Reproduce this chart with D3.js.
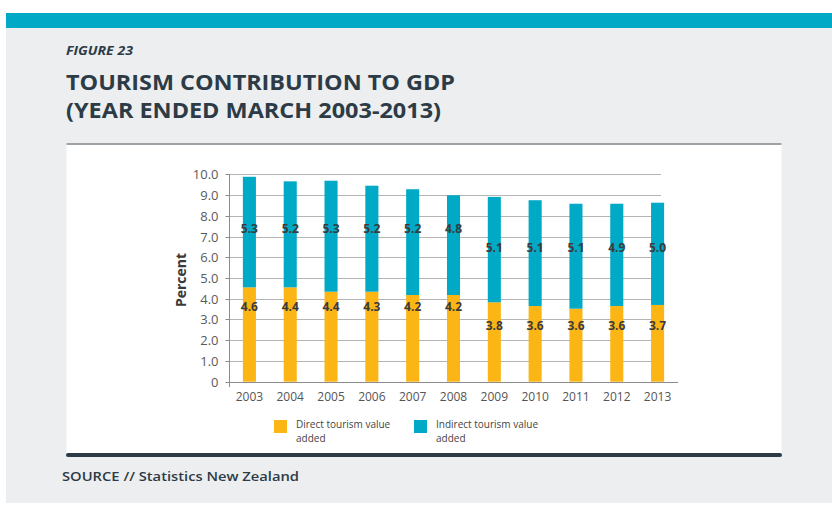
<!DOCTYPE html>
<html>
<head>
<meta charset="utf-8">
<script src="https://cdn.jsdelivr.net/npm/d3@7"></script>
<style>
  html, body { margin: 0; padding: 0; background: #ffffff; }
  svg { display: block; }
  text { font-family: "Open Sans", sans-serif; }
</style>
</head>
<body>
<svg id="chart" width="832" height="505"></svg>
<script>
// ---- data ----
const years = ["2003","2004","2005","2006","2007","2008","2009","2010","2011","2012","2013"];
const direct = [4.55, 4.55, 4.34, 4.34, 4.18, 4.18, 3.83, 3.65, 3.52, 3.65, 3.70];
const indirect = [5.33, 5.11, 5.35, 5.11, 5.10, 4.81, 5.08, 5.10, 5.06, 4.93, 4.93];
const directLabels = ["4.6","4.4","4.4","4.3","4.2","4.2","3.8","3.6","3.6","3.6","3.7"];
const indirectLabels = ["5.3","5.2","5.3","5.2","5.2","4.8","5.1","5.1","5.1","4.9","5.0"];
const directLabelAt = [3.62, 3.62, 3.62, 3.62, 3.62, 3.62, 2.70, 2.70, 2.70, 2.70, 2.70];
const indirectLabelAt = [7.36, 7.36, 7.36, 7.36, 7.36, 7.36, 6.48, 6.48, 6.48, 6.48, 6.48];
const yTicks = [0,1,2,3,4,5,6,7,8,9,10];
const yTickLabels = ["0","1.0","2.0","3.0","4.0","5.0","6.0","7.0","8.0","9.0","10.0"];
const seriesNames = ["Direct tourism value added", "Indirect tourism value added"];

const figureLabel = "FIGURE 23";
const titleLines = ["TOURISM CONTRIBUTION TO GDP", "(YEAR ENDED MARCH 2003-2013)"];
const sourceText = "SOURCE // Statistics New Zealand";
const yTitle = "Percent";

// ---- styles ----
const C_ORANGE = "#fbb515";
const C_TEAL = "#00a9c6";
const C_DARK = "#2c3b45";
const C_PANEL = "#eceef0";

const svg = d3.select("#chart");

// background panel
svg.append("rect").attr("x", 6).attr("y", 13).attr("width", 826).attr("height", 490).attr("fill", C_PANEL);
svg.append("rect").attr("x", 6).attr("y", 13).attr("width", 826).attr("height", 15).attr("fill", "#00a9c5");

// headings
svg.append("text").attr("x", 66).attr("y", 55)
  .attr("font-size", 13).attr("font-weight", 700).attr("font-style", "italic")
  .attr("fill", C_DARK).attr("textLength", 67).attr("lengthAdjust", "spacingAndGlyphs")
  .text(figureLabel);
svg.append("text").attr("x", 66).attr("y", 90)
  .attr("font-size", 22).attr("font-weight", 700).attr("fill", C_DARK)
  .attr("textLength", 389).attr("lengthAdjust", "spacingAndGlyphs")
  .text(titleLines[0]);
svg.append("text").attr("x", 66).attr("y", 118)
  .attr("font-size", 22).attr("font-weight", 700).attr("fill", C_DARK)
  .attr("textLength", 375).attr("lengthAdjust", "spacingAndGlyphs")
  .text(titleLines[1]);

// white chart box
svg.append("rect").attr("x", 66.5).attr("y", 144).attr("width", 715).attr("height", 311).attr("fill", "#ffffff");
svg.append("line").attr("x1", 66.5).attr("x2", 781.5).attr("y1", 144).attr("y2", 144)
  .attr("stroke", "#9ea3a7").attr("stroke-width", 2);
svg.append("line").attr("x1", 68).attr("x2", 780).attr("y1", 455).attr("y2", 455)
  .attr("stroke", C_DARK).attr("stroke-width", 4).attr("stroke-linecap", "round");

// source
svg.append("text").attr("x", 62).attr("y", 481)
  .attr("font-size", 13).attr("font-weight", 600).attr("fill", C_DARK)
  .attr("textLength", 237).attr("lengthAdjust", "spacingAndGlyphs")
  .text(sourceText);

// ---- scales ----
const x = d3.scaleBand().domain(years).range([229, 678]).paddingInner(0.68).paddingOuter(0.34);
const y = d3.scaleLinear().domain([0, 10]).range([381.7, 174.3]);
const gridEnd = 661;

// gridlines
svg.append("g").selectAll("line").data(yTicks.filter(d => d > 0)).join("line")
  .attr("x1", 229).attr("x2", gridEnd)
  .attr("y1", d => Math.round(y(d)) + 0.5).attr("y2", d => Math.round(y(d)) + 0.5)
  .attr("stroke", "#b4b4b4").attr("stroke-width", 1);

// y axis
const yAxis = d3.axisLeft(y).tickValues(yTicks).tickSize(4).tickPadding(7)
  .tickFormat((d, i) => yTickLabels[i]);
const gy = svg.append("g").attr("transform", "translate(229.5,0)").call(yAxis);
gy.select(".domain").remove();
gy.selectAll(".tick line").attr("stroke", "#8c8c8c");
gy.selectAll(".tick").attr("transform", d => `translate(0,${Math.round(y(d)) + 0.5})`);
gy.selectAll(".tick text").attr("font-family", "'Open Sans', sans-serif").attr("font-size", 13)
  .attr("fill", "#5a5a5a").attr("dy", "0.34em");
svg.append("line").attr("x1", 229.5).attr("x2", 229.5).attr("y1", y(10)).attr("y2", 387)
  .attr("stroke", "#8c8c8c");

// x axis
const xAxis = d3.axisBottom(x).tickSize(0).tickPadding(10);
const gx = svg.append("g").attr("transform", `translate(0,${Math.round(y(0)) + 0.5})`).call(xAxis);
gx.select(".domain").attr("stroke", "#8c8c8c").attr("d", "M229,0H678");
gx.selectAll(".tick text").attr("font-family", "'Open Sans', sans-serif").attr("font-size", 12)
  .attr("fill", "#555");

// bars
const bars = svg.append("g");
bars.selectAll("rect.direct").data(years).join("rect").attr("class", "direct")
  .attr("x", d => x(d)).attr("width", x.bandwidth())
  .attr("y", (d, i) => y(direct[i])).attr("height", (d, i) => y(0) - y(direct[i]))
  .attr("fill", C_ORANGE);
bars.selectAll("rect.indirect").data(years).join("rect").attr("class", "indirect")
  .attr("x", d => x(d)).attr("width", x.bandwidth())
  .attr("y", (d, i) => y(direct[i] + indirect[i]))
  .attr("height", (d, i) => y(direct[i]) - y(direct[i] + indirect[i]))
  .attr("fill", C_TEAL);

// value labels
const lab = svg.append("g").attr("font-size", 12).attr("font-weight", 700).attr("fill", "#3b3b3b")
  .attr("text-anchor", "middle");
lab.selectAll("text.dl").data(years).join("text").attr("class", "dl")
  .attr("x", d => x(d) + x.bandwidth() / 2).attr("y", (d, i) => y(directLabelAt[i])).attr("dy", "0.35em")
  .text((d, i) => directLabels[i]);
lab.selectAll("text.il").data(years).join("text").attr("class", "il")
  .attr("x", d => x(d) + x.bandwidth() / 2).attr("y", (d, i) => y(indirectLabelAt[i])).attr("dy", "0.35em")
  .text((d, i) => indirectLabels[i]);

// y title
svg.append("text").attr("transform", "translate(186,280) rotate(-90)")
  .attr("text-anchor", "middle").attr("font-size", 14).attr("font-weight", 700).attr("fill", "#3a3a3a")
  .text(yTitle);

// legend
const legend = [
  { x: 274, color: C_ORANGE, lines: ["Direct tourism value", "added"] },
  { x: 414, color: C_TEAL, lines: ["Indirect tourism value", "added"] }
];
legend.forEach((L, k) => {
  svg.append("rect").attr("x", L.x).attr("y", 420).attr("width", 13).attr("height", 13).attr("fill", L.color);
  L.lines.forEach((ln, j) => {
    svg.append("text").attr("x", L.x + 22).attr("y", 428 + j * 13.8)
      .attr("font-size", 10).attr("fill", "#444").text(ln);
  });
});
</script>
</body>
</html>
